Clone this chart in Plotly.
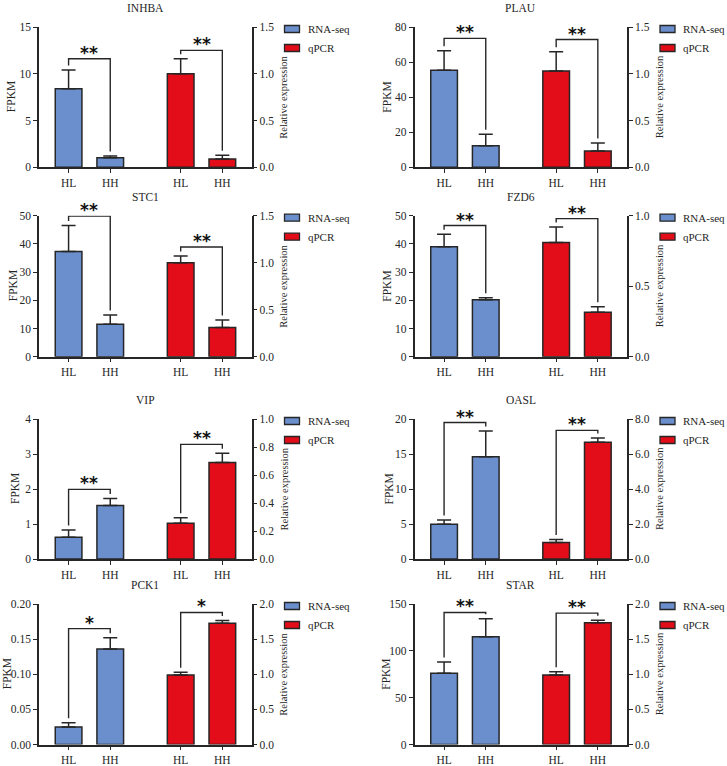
import plotly.graph_objects as go

# ---------------- data ----------------
genes = ["INHBA", "PLAU", "STC1", "FZD6", "VIP", "OASL", "PCK1", "STAR"]
groups = ["HL", "HH"]
series_names = ["RNA-seq", "qPCR"]

rnaseq_mean = [[8.4, 1.03], [55.4, 12.3], [37.3, 11.5], [39.0, 20.2],
               [0.62, 1.53], [4.95, 14.6], [0.025, 0.136], [76.0, 115.0]]
rnaseq_err_top = [[10.4, 1.2], [66.4, 18.9], [46.5, 14.8], [43.4, 20.9],
                  [0.83, 1.73], [5.57, 18.3], [0.031, 0.152], [88.2, 134.3]]
qpcr_mean = [[1.0, 0.09], [1.03, 0.175], [1.0, 0.31], [0.81, 0.315],
             [0.255, 0.69], [0.95, 6.67], [0.99, 1.725], [0.99, 1.733]]
qpcr_err_top = [[1.16, 0.13], [1.235, 0.26], [1.07, 0.39], [0.92, 0.355],
                [0.295, 0.755], [1.12, 6.91], [1.03, 1.764], [1.035, 1.77]]

rnaseq_bracket = [11.6, 73.5, 49.9, 46.5, 1.99, 19.5, 0.165, 141.0]
qpcr_bracket = [1.25, 1.366, 1.167, 0.979, 0.819, 7.35, 1.88, 1.87]
rnaseq_sig = ["**", "**", "**", "**", "**", "**", "*", "**"]
qpcr_sig = ["**", "**", "**", "**", "**", "**", "*", "**"]

left_max = [15, 80, 50, 50, 4, 20, 0.20, 150]
left_dtick = [5, 20, 10, 10, 1, 5, 0.05, 50]
left_fmt = ["d", "d", "d", "d", "d", "d", ".2f", "d"]
right_max = [1.5, 1.5, 1.5, 1.0, 1.0, 8.0, 2.0, 2.0]
right_dtick = [0.5, 0.5, 0.5, 0.5, 0.2, 2.0, 0.5, 0.5]

# category positions on the shared x scale of each panel
x_rna = [0, 1]
x_qpcr = [2.69, 3.69]
x_ticktext = ["HL", "HH", "HL", "HH"]

# ---------------- styling / layout ----------------
W, H = 727, 766
FONT = "Liberation Serif"
INK = "#262626"
BLUE = "#6b8fcd"
RED = "#e20d18"
series_colors = [BLUE, RED]

# panel edges in pixels
col_px = [(39, 251.5), (414.5, 627)]
row_px = [(27, 167.3), (215.7, 356.7), (419, 559), (604, 744.5)]
fpkm_shift = [-28, -27, -26, -27, -24, -26, -32, -28]


def px_x(p):
    return p / W


def px_y(p):
    return 1 - p / H


fig = go.Figure()
layout = dict(
    width=W, height=H, margin=dict(l=0, r=0, t=0, b=0),
    paper_bgcolor="white", plot_bgcolor="rgba(0,0,0,0)",
    barmode="overlay", showlegend=False,
    font=dict(family=FONT, size=11, color=INK),
)
annotations = []
shapes = []

for k, gene in enumerate(genes):
    r, c = divmod(k, 2)
    x0p, x1p = col_px[c]
    ytp, ybp = row_px[r]
    xdom = [px_x(x0p), px_x(x1p)]
    ydom = [px_y(ybp), px_y(ytp)]

    xn = "" if k == 0 else str(k + 1)
    yl = "" if k == 0 else str(2 * k + 1)
    yr = str(2 * k + 2)
    xref, ylref, yrref = "x" + xn, "y" + yl, "y" + yr

    axis_common = dict(
        showline=True, linecolor=INK, linewidth=1.5,
        ticks="outside", ticklen=4, tickwidth=1.2, tickcolor=INK,
        showgrid=False, zeroline=False, automargin=False,
        tickfont=dict(family=FONT, size=11.5, color=INK),
    )
    layout["xaxis" + xn] = dict(
        domain=xdom, anchor=ylref, range=[-0.71, 4.39],
        tickvals=x_rna + x_qpcr, ticktext=x_ticktext, **axis_common,
    )
    layout["yaxis" + yl] = dict(
        domain=ydom, anchor=xref, range=[0, left_max[k]],
        dtick=left_dtick[k], tick0=0, tickformat=left_fmt[k],
        side="left", **axis_common,
    )
    layout["yaxis" + yr] = dict(
        overlaying=ylref, anchor=xref, side="right", range=[0, right_max[k]],
        dtick=right_dtick[k], tick0=0, tickformat=".1f", **axis_common,
    )

    # bars
    fig.add_trace(go.Bar(
        x=x_rna, y=rnaseq_mean[k], width=0.64, name=series_names[0],
        marker=dict(color=BLUE, line=dict(color=INK, width=1.5)),
        error_y=dict(type="data", symmetric=False,
                     array=[e - m for e, m in zip(rnaseq_err_top[k], rnaseq_mean[k])],
                     arrayminus=[0, 0], color=INK, thickness=1.5, width=7),
        xaxis=xref, yaxis=ylref, hoverinfo="skip",
    ))
    fig.add_trace(go.Bar(
        x=x_qpcr, y=qpcr_mean[k], width=0.64, name=series_names[1],
        marker=dict(color=RED, line=dict(color=INK, width=1.5)),
        error_y=dict(type="data", symmetric=False,
                     array=[e - m for e, m in zip(qpcr_err_top[k], qpcr_mean[k])],
                     arrayminus=[0, 0], color=INK, thickness=1.5, width=7),
        xaxis=xref, yaxis=yrref, hoverinfo="skip",
    ))

    # significance brackets
    plot_h = ybp - ytp
    for xs, tops, h, rng, yref, sig in (
        (x_rna, rnaseq_err_top[k], rnaseq_bracket[k], left_max[k], ylref, rnaseq_sig[k]),
        (x_qpcr, qpcr_err_top[k], qpcr_bracket[k], right_max[k], yrref, qpcr_sig[k]),
    ):
        gap = 4.5 * rng / plot_h
        fig.add_trace(go.Scatter(
            x=[xs[0], xs[0], xs[1], xs[1]],
            y=[min(tops[0] + gap, h), h, h, min(tops[1] + gap, h)],
            mode="lines", line=dict(color=INK, width=1.4),
            xaxis=xref, yaxis=yref, showlegend=False, hoverinfo="skip",
            cliponaxis=False,
        ))
        annotations.append(dict(
            x=(xs[0] + xs[1]) / 2, y=h, xref=xref, yref=yref,
            text="<b>" + sig + "</b>", showarrow=False,
            font=dict(family="DejaVu Sans", size=17, color="#111"),
            xanchor="center", yanchor="middle", yshift=6,
        ))

    # panel title and axis titles
    annotations.append(dict(
        x=(xdom[0] + xdom[1]) / 2, y=ydom[1], xref="paper", yref="paper",
        text=gene, showarrow=False, xanchor="center", yanchor="middle",
        yshift=19, font=dict(family=FONT, size=11.5, color=INK),
    ))
    annotations.append(dict(
        x=xdom[0], y=(ydom[0] + ydom[1]) / 2, xref="paper", yref="paper",
        text="FPKM", showarrow=False, textangle=-90, xshift=fpkm_shift[k],
        xanchor="center", yanchor="middle",
        font=dict(family=FONT, size=11.5, color=INK),
    ))
    annotations.append(dict(
        x=xdom[1], y=(ydom[0] + ydom[1]) / 2, xref="paper", yref="paper",
        text="Relative expression", showarrow=False, textangle=-90, xshift=32,
        xanchor="center", yanchor="middle",
        font=dict(family=FONT, size=10.5, color=INK),
    ))

    # legend (key boxes + labels) to the right of each panel
    for i, (nm, col) in enumerate(zip(series_names, series_colors)):
        yc = ytp + 2 + 19 * i
        shapes.append(dict(
            type="rect", xref="paper", yref="paper",
            x0=px_x(x1p + 33), x1=px_x(x1p + 48),
            y0=px_y(yc + 3.5), y1=px_y(yc - 3.5),
            fillcolor=col, line=dict(color=INK, width=1.3),
        ))
        annotations.append(dict(
            x=px_x(x1p + 54), y=px_y(yc), xref="paper", yref="paper",
            text=nm, showarrow=False, xanchor="left", yanchor="middle",
            font=dict(family=FONT, size=11, color=INK),
        ))

layout["annotations"] = annotations
layout["shapes"] = shapes
fig.update_layout(**layout)
fig.write_html(
    "out.html",
    config={"displayModeBar": False},
    post_script="document.body.style.margin='0px';"
                "document.body.style.overflow='hidden';",
)
